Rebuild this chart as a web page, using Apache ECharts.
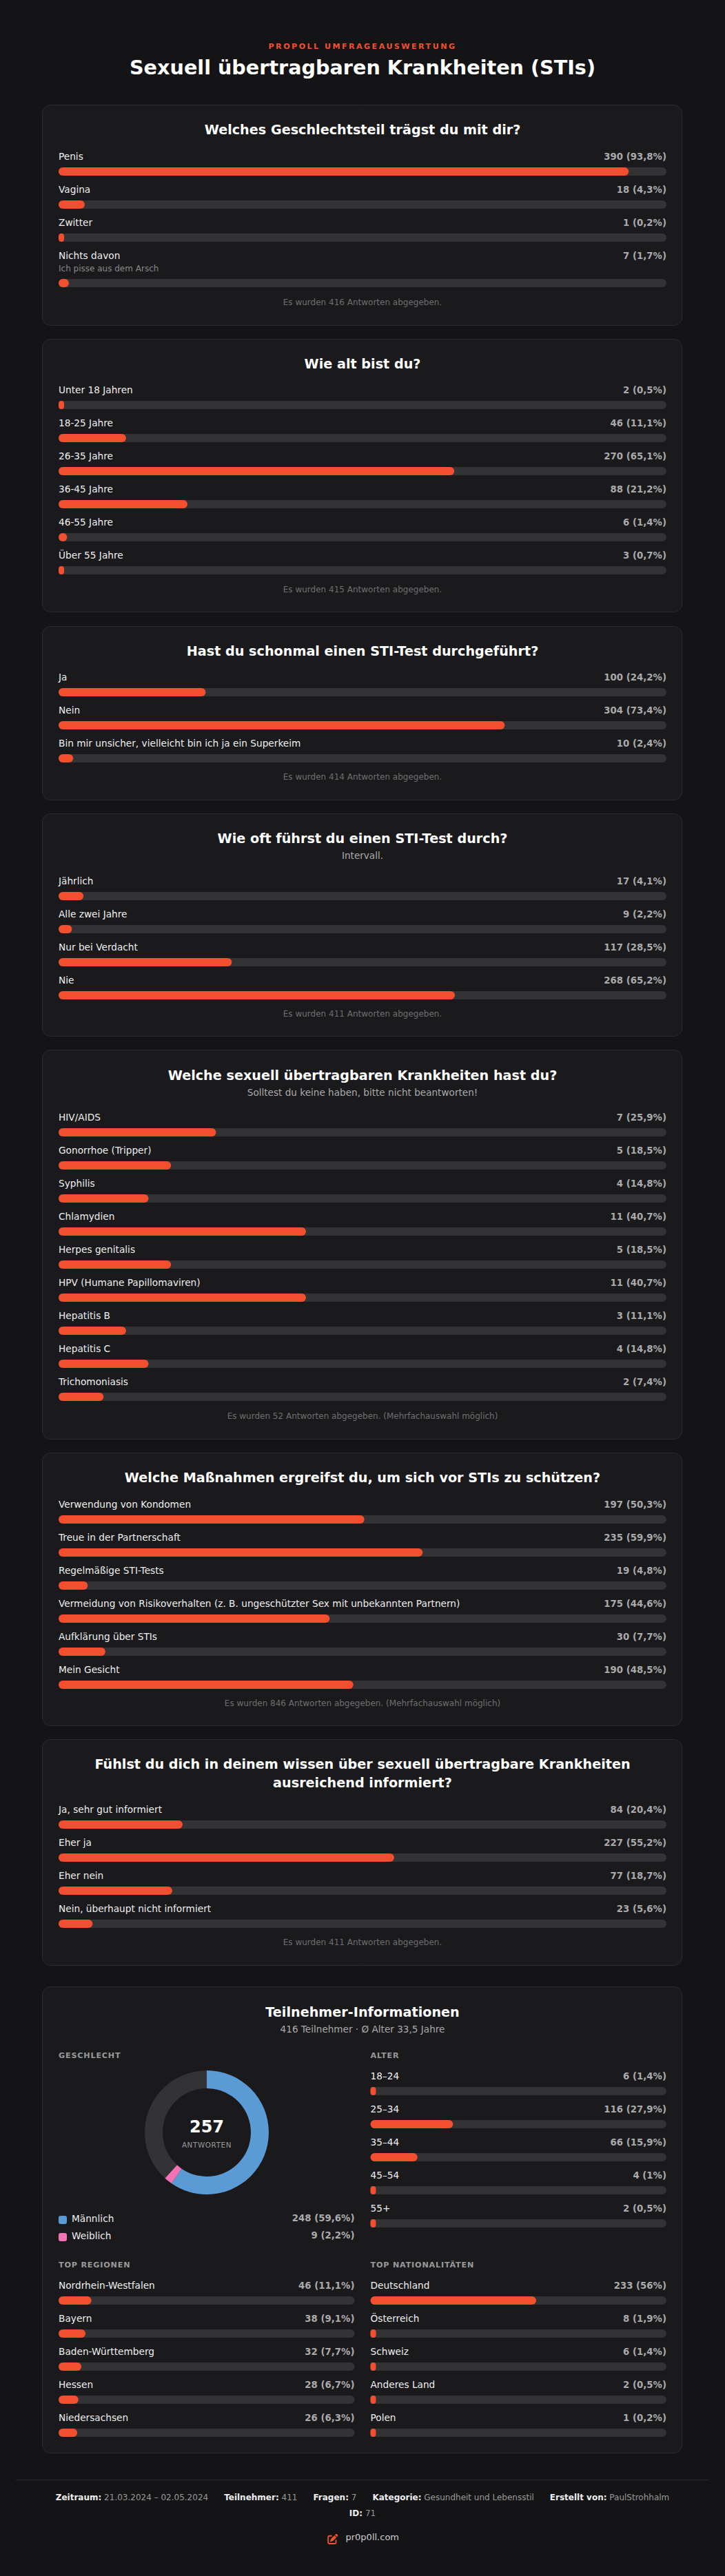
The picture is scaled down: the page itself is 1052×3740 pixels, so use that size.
<!DOCTYPE html>
<html lang="de">
<head>
<meta charset="utf-8">
<title>Sexuell übertragbaren Krankheiten (STIs)</title>
<style>html,body{margin:0;padding:0;background:#141416}#chart{width:1052px;height:3740px}</style>
<script src="https://cdn.jsdelivr.net/npm/echarts@6/dist/echarts.min.js"></script>
</head>
<body>
<div id="chart"></div>
<script>
// ---- data ----
const q1Title = 'Welches Geschlechtsteil trägst du mit dir?';
const q1Labels = ['Penis','Vagina','Zwitter','Nichts davon'];
const q1Counts = [390,18,1,7];
const q1Percents = [93.8,4.3,0.2,1.7];
const q1Hint = 'Ich pisse aus dem Arsch';
const q1Note = 'Es wurden 416 Antworten abgegeben.';

const q2Title = 'Wie alt bist du?';
const q2Labels = ['Unter 18 Jahren','18-25 Jahre','26-35 Jahre','36-45 Jahre','46-55 Jahre','Über 55 Jahre'];
const q2Counts = [2,46,270,88,6,3];
const q2Percents = [0.5,11.1,65.1,21.2,1.4,0.7];
const q2Note = 'Es wurden 415 Antworten abgegeben.';

const q3Title = 'Hast du schonmal einen STI-Test durchgeführt?';
const q3Labels = ['Ja','Nein','Bin mir unsicher, vielleicht bin ich ja ein Superkeim'];
const q3Counts = [100,304,10];
const q3Percents = [24.2,73.4,2.4];
const q3Note = 'Es wurden 414 Antworten abgegeben.';

const q4Title = 'Wie oft führst du einen STI-Test durch?';
const q4Sub = 'Intervall.';
const q4Labels = ['Jährlich','Alle zwei Jahre','Nur bei Verdacht','Nie'];
const q4Counts = [17,9,117,268];
const q4Percents = [4.1,2.2,28.5,65.2];
const q4Note = 'Es wurden 411 Antworten abgegeben.';

const q5Title = 'Welche sexuell übertragbaren Krankheiten hast du?';
const q5Sub = 'Solltest du keine haben, bitte nicht beantworten!';
const q5Labels = ['HIV/AIDS','Gonorrhoe (Tripper)','Syphilis','Chlamydien','Herpes genitalis','HPV (Humane Papillomaviren)','Hepatitis B','Hepatitis C','Trichomoniasis'];
const q5Counts = [7,5,4,11,5,11,3,4,2];
const q5Percents = [25.9,18.5,14.8,40.7,18.5,40.7,11.1,14.8,7.4];
const q5Note = 'Es wurden 52 Antworten abgegeben. (Mehrfachauswahl möglich)';

const q6Title = 'Welche Maßnahmen ergreifst du, um sich vor STIs zu schützen?';
const q6Labels = ['Verwendung von Kondomen','Treue in der Partnerschaft','Regelmäßige STI-Tests','Vermeidung von Risikoverhalten (z. B. ungeschützter Sex mit unbekannten Partnern)','Aufklärung über STIs','Mein Gesicht'];
const q6Counts = [197,235,19,175,30,190];
const q6Percents = [50.3,59.9,4.8,44.6,7.7,48.5];
const q6Note = 'Es wurden 846 Antworten abgegeben. (Mehrfachauswahl möglich)';

const q7TitleLines = ['Fühlst du dich in deinem wissen über sexuell übertragbare Krankheiten','ausreichend informiert?'];
const q7Labels = ['Ja, sehr gut informiert','Eher ja','Eher nein','Nein, überhaupt nicht informiert'];
const q7Counts = [84,227,77,23];
const q7Percents = [20.4,55.2,18.7,5.6];
const q7Note = 'Es wurden 411 Antworten abgegeben.';

const genderLabels = ['Männlich','Weiblich'];
const genderCounts = [248,9];
const genderPercents = [59.6,2.2];
const genderTotal = 416;

const ageLabels = ['18–24','25–34','35–44','45–54','55+'];
const ageCounts = [6,116,66,4,2];
const agePercents = [1.4,27.9,15.9,1,0.5];

const regionLabels = ['Nordrhein-Westfalen','Bayern','Baden-Württemberg','Hessen','Niedersachsen'];
const regionCounts = [46,38,32,28,26];
const regionPercents = [11.1,9.1,7.7,6.7,6.3];

const nationLabels = ['Deutschland','Österreich','Schweiz','Anderes Land','Polen'];
const nationCounts = [233,8,6,2,1];
const nationPercents = [56,1.9,1.4,0.5,0.2];

const kicker = 'PROPOLL UMFRAGEAUSWERTUNG';
const pageTitle = 'Sexuell übertragbaren Krankheiten (STIs)';
const infoTitle = 'Teilnehmer-Informationen';
const infoSub = '416 Teilnehmer · Ø Alter 33,5 Jahre';
const footerLine1 = [['Zeitraum:','21.03.2024 – 02.05.2024'],['Teilnehmer:','411'],['Fragen:','7'],['Kategorie:','Gesundheit und Lebensstil'],['Erstellt von:','PaulStrohhalm']];
const footerLine2 = [['ID:','71']];
const brand = 'pr0p0ll.com';

// ---- style + layout ----
const FONT = '"DejaVu Sans"';
const C = {bg:'#141416',card:'#1a1a1d',border:'#2c2c30',fill:'#f24f2f',track:'#333336',white:'#ffffff',name:'#eeeeee',value:'#aaaaaa',sub:'#aaaaaa',note:'#6f6f6f',hint:'#888888',male:'#5b9bd5',female:'#f472b6',head:'#999999',line:'#2a2a2e'};
const NAME_SIZE = 13.7, VALUE_SIZE = 13.3;
const PAGE_CX = 526, CARD_X = 61.5, CARD_W = 928;
const TRACK_X = 85, TRACK_W = 882, BAR_H = 12, PITCH = 48, LABEL_UP = 14;
const COL_W = 429.5, COL2_X = 537.5;
const ICON_PATH = 'M471.6 21.7c-21.9-21.9-57.3-21.9-79.2 0L362.3 51.7l97.9 97.9 30.1-30.1c21.9-21.9 21.9-57.3 0-79.2L471.6 21.7zm-299.2 220c-6.1 6.1-10.8 13.6-13.5 21.9l-29.6 88.8c-2.9 8.6-.6 18.1 5.8 24.6s15.9 8.7 24.6 5.8l88.8-29.6c8.2-2.7 15.7-7.4 21.9-13.5L437.7 172.3 339.7 74.3 172.4 241.7zM96 64C43 64 0 107 0 160V416c0 53 43 96 96 96H352c53 0 96-43 96-96V320c0-17.7-14.3-32-32-32s-32 14.3-32 32v96c0 17.7-14.3 32-32 32H96c-17.7 0-32-14.3-32-32V160c0-17.7 14.3-32 32-32h96c17.7 0 32-14.3 32-32s-14.3-32-32-32H96z';

const questions = [
 {top:152,bottom:472,title:[q1Title],titleY:[190],labels:q1Labels,counts:q1Counts,pct:q1Percents,note:q1Note,noteY:440,barTops:[243,291,339,405],rowUp:[0,0,0,18]},
 {top:492,bottom:888,title:[q2Title],titleY:[530],labels:q2Labels,counts:q2Counts,pct:q2Percents,note:q2Note,noteY:857,barTops:[582,630,678,726,774,822]},
 {top:909,bottom:1161,title:[q3Title],titleY:[947],labels:q3Labels,counts:q3Counts,pct:q3Percents,note:q3Note,noteY:1129,barTops:[999,1047,1095]},
 {top:1181,bottom:1504,title:[q4Title],titleY:[1219],sub:q4Sub,subY:1243,labels:q4Labels,counts:q4Counts,pct:q4Percents,note:q4Note,noteY:1473,barTops:[1295,1343,1391,1439]},
 {top:1524,bottom:2089,title:[q5Title],titleY:[1563],sub:q5Sub,subY:1587,labels:q5Labels,counts:q5Counts,pct:q5Percents,note:q5Note,noteY:2057,barTops:[1638,1686,1734,1782,1830,1878,1926,1974,2022]},
 {top:2109,bottom:2505,title:[q6Title],titleY:[2147],labels:q6Labels,counts:q6Counts,pct:q6Percents,note:q6Note,noteY:2474,barTops:[2200,2248,2296,2344,2392,2440]},
 {top:2525,bottom:2853,title:q7TitleLines,titleY:[2563,2590],labels:q7Labels,counts:q7Counts,pct:q7Percents,note:q7Note,noteY:2821,barTops:[2643,2691,2739,2787]}
];
const INFO = {top:2884,bottom:3561,titleY:2923,subY:2947,headY1:2985,headY2:3289,ageFirst:3030,listFirst:3334,donut:[300,3096],legendY:[3222,3247]};

const fmt = (c,p)=> c+' ('+String(p).replace('.',',')+'%)';
const grid=[],xAxis=[],yAxis=[],series=[],graphic=[];

function text(t,x,y,fontSize,fill,opts){
  graphic.push({type:'text',silent:true,z:20,style:{text:t,x:x,y:y,fill:fill,textAlign:(opts&&opts.align)||'left',textVerticalAlign:'middle',font:((opts&&opts.bold)?'bold ':'')+fontSize+'px '+FONT}});
}
function cardRect(top,bottom){
  graphic.push({type:'rect',silent:true,z:-10,shape:{x:CARD_X,y:top+0.5,width:CARD_W,height:bottom-top,r:12},style:{fill:C.card,stroke:C.border,lineWidth:1}});
}
function addBar(label,count,pct,x,y,w,extraUp){
  const i=grid.length, up=LABEL_UP+(extraUp||0);
  grid.push({left:x,top:y,width:w,height:BAR_H,containLabel:false});
  xAxis.push({gridIndex:i,type:'value',min:0,max:100,show:false});
  const common={gridIndex:i,type:'category',axisLine:{show:false},axisTick:{show:false},splitLine:{show:false}};
  yAxis.push(Object.assign({},common,{position:'left',data:[label],axisLabel:{inside:true,margin:0,align:'left',verticalAlign:'bottom',padding:[0,0,up,0],color:C.name,fontSize:NAME_SIZE,fontFamily:FONT}}));
  yAxis.push(Object.assign({},common,{position:'right',data:[fmt(count,pct)],axisLabel:{inside:true,margin:0,align:'right',verticalAlign:'bottom',padding:[0,0,up,0],color:C.value,fontSize:VALUE_SIZE,fontWeight:'bold',fontFamily:FONT}}));
  series.push({type:'bar',xAxisIndex:i,yAxisIndex:yAxis.length-2,data:[pct],barWidth:BAR_H,barMinHeight:8,silent:true,animation:false,
    showBackground:true,backgroundStyle:{color:C.track,borderRadius:6},itemStyle:{color:C.fill,borderRadius:6}});
}

// page head
text(kicker,PAGE_CX,68,11.2,C.fill,{align:'center',bold:true});
text(pageTitle,PAGE_CX,101,28.65,C.white,{align:'center',bold:true});

questions.forEach(q=>{
  cardRect(q.top,q.bottom);
  q.title.forEach((t,i)=>text(t,PAGE_CX,q.titleY[i],19.2,C.white,{align:'center',bold:true}));
  if(q.sub) text(q.sub,PAGE_CX,q.subY,13.6,C.sub,{align:'center'});
  q.labels.forEach((l,i)=>addBar(l,q.counts[i],q.pct[i],TRACK_X,q.barTops[i],TRACK_W,q.rowUp&&q.rowUp[i]));
  text(q.note,PAGE_CX,q.noteY,12,C.note,{align:'center'});
});
// the one hint line under an option
text(q1Hint,TRACK_X,391,12,C.hint);

// participants
cardRect(INFO.top,INFO.bottom);
text(infoTitle,PAGE_CX,INFO.titleY,19.2,C.white,{align:'center',bold:true});
text(infoSub,PAGE_CX,INFO.subY,13.6,C.sub,{align:'center'});
text('GESCHLECHT',TRACK_X,INFO.headY1,11.2,C.head,{bold:true});
text('ALTER',COL2_X,INFO.headY1,11.2,C.head,{bold:true});
text('TOP REGIONEN',TRACK_X,INFO.headY2,11.2,C.head,{bold:true});
text('TOP NATIONALITÄTEN',COL2_X,INFO.headY2,11.2,C.head,{bold:true});
ageLabels.forEach((l,i)=>addBar(l,ageCounts[i],agePercents[i],COL2_X,INFO.ageFirst+i*PITCH,COL_W));
regionLabels.forEach((l,i)=>addBar(l,regionCounts[i],regionPercents[i],TRACK_X,INFO.listFirst+i*PITCH,COL_W));
nationLabels.forEach((l,i)=>addBar(l,nationCounts[i],nationPercents[i],COL2_X,INFO.listFirst+i*PITCH,COL_W));

// donut
const answered = genderCounts.reduce((a,b)=>a+b,0);
series.push({type:'pie',center:INFO.donut,radius:[64,90],startAngle:90,silent:true,animation:false,label:{show:false},labelLine:{show:false},
  data:[{name:genderLabels[0],value:genderCounts[0],itemStyle:{color:C.male}},{name:genderLabels[1],value:genderCounts[1],itemStyle:{color:C.female}},{name:'',value:genderTotal-answered,itemStyle:{color:C.track}}]});
text(String(answered),INFO.donut[0],3090,24,C.white,{align:'center',bold:true});
text('ANTWORTEN',INFO.donut[0],3115,10.4,C.head,{align:'center'});
genderLabels.forEach((l,i)=>{
  const y=INFO.legendY[i];
  graphic.push({type:'rect',silent:true,z:20,shape:{x:85,y:y-5,width:12,height:12,r:3},style:{fill:i?C.female:C.male}});
  text(l,104,y,NAME_SIZE,C.name);
  text(fmt(genderCounts[i],genderPercents[i]),514.5,y,VALUE_SIZE,C.value,{align:'right',bold:true});
});

// footer
graphic.push({type:'rect',silent:true,z:0,shape:{x:23,y:3600,width:1006,height:1},style:{fill:C.line}});
function footerRich(items){
  return items.map(it=>'{b|'+it[0]+'}{v| '+it[1]+'}').join('{g| }');
}
const footRich={b:{font:'bold 12px '+FONT,fill:'#eeeeee'},v:{font:'12px '+FONT,fill:'#999999'},g:{width:23,font:'12px '+FONT}};
[[footerLine1,3627],[footerLine2,3650]].forEach(([items,y])=>{
  graphic.push({type:'text',silent:true,z:20,style:{text:footerRich(items),x:PAGE_CX,y:y,textAlign:'center',textVerticalAlign:'middle',font:'12px '+FONT,rich:footRich}});
});
text(brand,501.5,3685,13,'#cccccc');
// brand icon through a custom series (single path glyph)
series.push({type:'custom',coordinateSystem:'none',silent:true,animation:false,data:[[0]],renderItem:function(){
  return {type:'path',shape:{pathData:ICON_PATH,x:473.5,y:3679,width:18.5,height:15},style:{fill:C.fill}};
}});

// tracking on the heading texts (canvas letter spacing)
const tracking={[kicker]:'2.4px','GESCHLECHT':'0.8px','ALTER':'0.8px','TOP REGIONEN':'0.8px','TOP NATIONALITÄTEN':'0.8px','ANTWORTEN':'0.6px'};
const proto=CanvasRenderingContext2D.prototype, nativeFill=proto.fillText;
proto.fillText=function(t,x,y,m){
  this.letterSpacing=tracking[t]||'0px';
  return m===undefined?nativeFill.call(this,t,x,y):nativeFill.call(this,t,x,y,m);
};
// opaque canvas, so text is smoothed like page text
const nativeGet=HTMLCanvasElement.prototype.getContext;
HTMLCanvasElement.prototype.getContext=function(k,o){return nativeGet.call(this,k,k==='2d'?Object.assign({},o,{alpha:false}):o);};

// ---- chart ----
const chart = echarts.init(document.getElementById('chart'),null,{renderer:'canvas',width:1052,height:3740,devicePixelRatio:1});
chart.setOption({backgroundColor:C.bg,animation:false,tooltip:{show:false},grid,xAxis,yAxis,series,graphic:{elements:graphic}});
</script>
</body>
</html>
